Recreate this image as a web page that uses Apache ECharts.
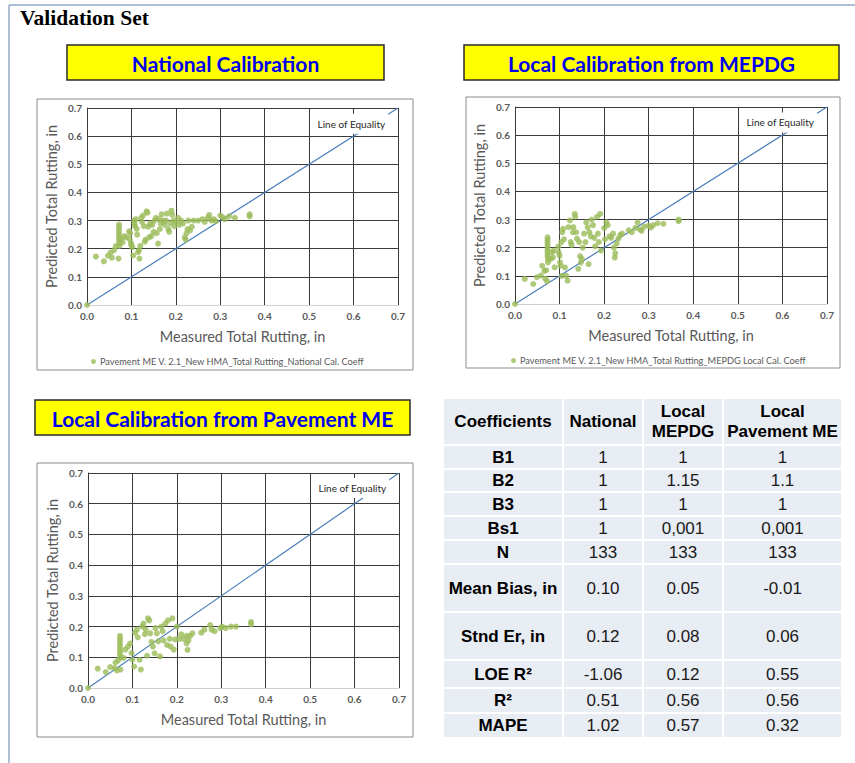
<!DOCTYPE html>
<html>
<head>
<meta charset="utf-8">
<script src="https://cdn.jsdelivr.net/npm/echarts@6/dist/echarts.min.js"></script>
<style>
html,body{margin:0;padding:0;background:#fff;}
#c{width:855px;height:763px;}
</style>
</head>
<body>
<div id="c"></div>
<script>
// ---------- data ----------
const tickLabels = ['0.0','0.1','0.2','0.3','0.4','0.5','0.6','0.7'];
const xAxisName = 'Measured Total Rutting, in';
const yAxisName = 'Predicted Total Rutting, in';
const equalityLine = [[0,0],[0.7,0.7]];

const nationalName = 'Pavement ME V. 2.1_New HMA_Total Rutting_National Cal. Coeff';
const mepdgName = 'Pavement ME V. 2.1_New HMA_Total Rutting_MEPDG Local Cal. Coeff';
const pmeName = 'Pavement ME V. 2.1_New HMA_Total Rutting_Pavement ME Local Cal. Coeff';

const nationalPoints = [
 [0,0],
 [0.02,0.172],[0.038,0.155],[0.047,0.175],[0.053,0.186],[0.056,0.168],[0.061,0.195],[0.065,0.209],[0.071,0.165],
 [0.072,0.286],[0.072,0.276],[0.072,0.265],[0.072,0.254],[0.072,0.243],[0.072,0.232],[0.072,0.22],[0.073,0.21],
 [0.077,0.233],[0.08,0.222],[0.084,0.245],[0.088,0.24],
 [0.095,0.262],[0.097,0.255],[0.096,0.234],[0.099,0.22],[0.1,0.212],[0.102,0.205],[0.104,0.176],
 [0.106,0.3],[0.107,0.29],[0.108,0.28],[0.11,0.305],[0.112,0.27],[0.113,0.25],[0.115,0.188],[0.117,0.195],[0.118,0.165],[0.12,0.21],
 [0.122,0.31],[0.124,0.295],[0.126,0.318],[0.128,0.28],[0.13,0.225],[0.132,0.232],[0.134,0.333],[0.136,0.328],[0.138,0.278],[0.14,0.24],[0.142,0.29],
 [0.145,0.245],[0.147,0.285],[0.15,0.26],[0.152,0.3],[0.155,0.31],[0.157,0.255],[0.16,0.218],[0.162,0.305],[0.164,0.27],[0.166,0.29],[0.168,0.322],
 [0.172,0.3],[0.175,0.285],[0.178,0.3],[0.18,0.325],[0.183,0.27],[0.185,0.26],[0.188,0.29],[0.19,0.335],[0.192,0.32],[0.195,0.3],[0.197,0.28],
 [0.2,0.295],[0.205,0.31],[0.208,0.285],[0.212,0.3],[0.216,0.29],[0.22,0.24],[0.222,0.232],[0.224,0.255],[0.226,0.27],[0.228,0.3],[0.232,0.265],[0.236,0.278],[0.24,0.3],
 [0.25,0.3],[0.26,0.305],[0.265,0.295],[0.272,0.31],[0.275,0.32],[0.28,0.3],[0.285,0.305],[0.29,0.298],[0.3,0.318],[0.305,0.312],[0.31,0.305],[0.32,0.315],[0.333,0.31],[0.366,0.322],[0.366,0.315]
];

const mepdgPoints = [
 [0,0],
 [0.022,0.089],[0.041,0.071],[0.049,0.095],[0.058,0.101],[0.061,0.136],[0.066,0.118],[0.068,0.09],[0.072,0.081],
 [0.073,0.237],[0.073,0.228],[0.073,0.219],[0.073,0.21],[0.073,0.2],[0.073,0.19],[0.073,0.18],[0.073,0.17],[0.074,0.16],[0.074,0.148],[0.07,0.12],
 [0.08,0.16],[0.083,0.184],[0.085,0.166],[0.087,0.19],[0.089,0.13],
 [0.097,0.204],[0.098,0.184],[0.1,0.172],[0.101,0.148],[0.102,0.136],[0.104,0.22],[0.105,0.1],
 [0.106,0.255],[0.108,0.267],[0.11,0.23],[0.112,0.13],[0.115,0.1],[0.118,0.083],[0.12,0.273],[0.123,0.297],[0.125,0.22],[0.127,0.21],[0.13,0.255],[0.131,0.273],
 [0.134,0.32],[0.135,0.31],[0.137,0.255],[0.139,0.232],[0.142,0.125],[0.144,0.22],[0.146,0.17],[0.148,0.148],[0.15,0.16],[0.152,0.2],[0.155,0.25],[0.158,0.22],
 [0.16,0.29],[0.163,0.272],[0.165,0.142],[0.167,0.255],[0.17,0.24],[0.172,0.3],[0.175,0.28],[0.178,0.235],[0.18,0.205],[0.184,0.31],[0.186,0.25],[0.188,0.22],[0.191,0.32],[0.193,0.19],
 [0.2,0.27],[0.202,0.23],[0.205,0.29],[0.208,0.28],[0.212,0.24],[0.216,0.235],[0.22,0.25],[0.222,0.2],[0.224,0.165],[0.225,0.18],[0.228,0.215],[0.232,0.232],[0.236,0.245],[0.24,0.25],
 [0.255,0.262],[0.262,0.255],[0.27,0.27],[0.275,0.29],[0.28,0.265],[0.284,0.26],[0.29,0.275],[0.3,0.278],[0.305,0.272],[0.31,0.28],[0.32,0.287],[0.333,0.285],[0.367,0.3],[0.367,0.294]
];

const pmePoints = [
 [0,0],
 [0.022,0.063],[0.04,0.052],[0.05,0.068],[0.06,0.065],[0.062,0.083],[0.065,0.057],[0.068,0.09],
 [0.072,0.17],[0.072,0.16],[0.072,0.15],[0.072,0.14],[0.072,0.13],[0.072,0.12],[0.072,0.11],[0.073,0.1],[0.073,0.06],
 [0.08,0.098],[0.084,0.125],[0.09,0.135],[0.095,0.145],[0.098,0.114],[0.1,0.092],[0.104,0.07],
 [0.106,0.18],[0.11,0.19],[0.112,0.165],[0.116,0.092],[0.119,0.06],[0.122,0.2],[0.125,0.21],[0.128,0.175],[0.13,0.19],[0.133,0.105],
 [0.135,0.227],[0.138,0.22],[0.14,0.178],[0.143,0.15],[0.146,0.135],[0.15,0.113],[0.152,0.195],[0.155,0.178],[0.158,0.152],[0.162,0.103],[0.165,0.2],[0.168,0.185],[0.17,0.155],[0.174,0.21],[0.178,0.14],
 [0.18,0.22],[0.184,0.16],[0.186,0.135],[0.19,0.227],[0.193,0.125],[0.196,0.158],[0.2,0.2],[0.205,0.16],[0.21,0.175],[0.215,0.16],
 [0.222,0.17],[0.222,0.145],[0.224,0.124],[0.226,0.155],[0.23,0.17],[0.235,0.178],
 [0.255,0.18],[0.262,0.19],[0.275,0.205],[0.278,0.19],[0.285,0.185],[0.298,0.195],[0.302,0.2],[0.31,0.195],[0.322,0.2],[0.333,0.2],[0.367,0.215],[0.367,0.208]
];

const tableHeader = ['Coefficients','National','Local\nMEPDG','Local\nPavement ME'];
const tableRowLabels = ['B1','B2','B3','Bs1','N','Mean Bias, in','Stnd Er, in','LOE R\u00B2','R\u00B2','MAPE'];
const tableNational = ['1','1','1','1','133','0.10','0.12','-1.06','0.51','1.02'];
const tableMepdg = ['1','1.15','1','0,001','133','0.05','0.08','0.12','0.56','0.57'];
const tablePme = ['1','1.1','1','0,001','133','-0.01','0.06','0.55','0.56','0.32'];

// ---------- layout ----------
const chartFont = 'Lato';
const grids = [
  {left:87, top:108, width:311, height:197},
  {left:515, top:107, width:312, height:197},
  {left:88, top:473, width:311, height:215}
];
const labelCoords = [[0.595,0.644],[0.595,0.645],[0.595,0.651]];

function xAxisFor(i){
  return {
    type:'value', gridIndex:i, min:0, max:0.7, interval:0.1,
    name:xAxisName, nameLocation:'middle', nameGap:24,
    nameTextStyle:{fontFamily:chartFont, fontSize:14.5, color:'#595959'},
    axisLine:{show:true, lineStyle:{color:'#d0d0d0'}},
    axisTick:{show:false},
    splitLine:{show:true, lineStyle:{color:'#3a3a3a', width:1}},
    axisLabel:{margin:6, fontFamily:chartFont, fontSize:10, fontWeight:'bold', color:'#595959',
      formatter:v=>tickLabels[Math.round(v*10)]}
  };
}
function yAxisFor(i){
  return {
    type:'value', gridIndex:i, min:0, max:0.7, interval:0.1,
    name:yAxisName, nameLocation:'middle', nameGap:28,
    nameTextStyle:{fontFamily:chartFont, fontSize:14.5, color:'#595959'},
    axisLine:{show:true, lineStyle:{color:'#3a3a3a'}},
    axisTick:{show:false},
    splitLine:{show:true, lineStyle:{color:'#3a3a3a', width:1}},
    axisLabel:{margin:5, fontFamily:chartFont, fontSize:10, fontWeight:'bold', color:'#595959',
      formatter:v=>tickLabels[Math.round(v*10)]}
  };
}
function scatterFor(i, name, pts){
  return {type:'scatter', name:name, xAxisIndex:i, yAxisIndex:i, data:pts,
    symbol:'circle', symbolSize:6, itemStyle:{color:'#9BBB59'}, z:3};
}
function lineFor(i){
  return {type:'line', name:'Line of Equality', xAxisIndex:i, yAxisIndex:i, data:equalityLine,
    showSymbol:false, lineStyle:{color:'#4A7EBB', width:1.2}, itemStyle:{color:'#4A7EBB'}, z:2,
    silent:true,
    markPoint:{symbol:'circle', symbolSize:1, itemStyle:{color:'rgba(0,0,0,0)'},
      data:[{coord:labelCoords[i]}],
      label:{show:true, position:'inside', formatter:'Line of Equality', backgroundColor:'#fff',
        padding:[5,3], fontFamily:chartFont, fontSize:10, color:'#262626'}}
  };
}

// ---------- graphics ----------
const g = [];
// page frame
g.push({type:'line', shape:{x1:9,y1:5,x2:855,y2:5}, style:{stroke:'#93a9c6', lineWidth:1.5}});
g.push({type:'line', shape:{x1:9,y1:5,x2:9,y2:763}, style:{stroke:'#93a9c6', lineWidth:1.5}});
g.push({type:'text', left:20, top:7, style:{text:'Validation Set', font:'bold 21.5px "Liberation Serif"', fill:'#000'}});

// chart frames
[[37,99,376,271],[466,97,374,271],[37,463,376,274]].forEach(r=>{
  g.push({type:'rect', shape:{x:r[0],y:r[1],width:r[2],height:r[3]}, style:{fill:'none', stroke:'#8c8c8c', lineWidth:1}, z:-1});
});

// yellow title boxes
const titleBoxes = [
  {x:67,y:45,w:317,h:35,t:'National Calibration'},
  {x:464,y:45,w:375,h:35,t:'Local Calibration from MEPDG'},
  {x:35,y:400,w:375,h:35,t:'Local Calibration from Pavement ME'}
];
titleBoxes.forEach(b=>{
  g.push({type:'rect', shape:{x:b.x,y:b.y,width:b.w,height:b.h}, style:{fill:'#FFFF00', stroke:'#2b2b2b', lineWidth:1.5}});
  g.push({type:'text', x:b.x+b.w/2, y:b.y+b.h/2+1, style:{text:b.t, font:'bold 21px Lato', fill:'#0000EE', textAlign:'center', textVerticalAlign:'middle'}});
});

// table
const colEdges = [443,563,643,723,842];
const rowEdges = [398,445,469,492,516,540,564,612,660,688,713,738];
for(let r=0;r<rowEdges.length-1;r++){
  for(let c=0;c<colEdges.length-1;c++){
    g.push({type:'rect', shape:{x:colEdges[c]+1,y:rowEdges[r]+1,width:colEdges[c+1]-colEdges[c]-2,height:rowEdges[r+1]-rowEdges[r]-2},
      style:{fill:'#E8ECF3'}});
  }
}
function cellText(c, r, txt, bold){
  const cx = (colEdges[c]+colEdges[c+1])/2;
  const cy = (rowEdges[r]+rowEdges[r+1])/2;
  g.push({type:'text', x:cx, y:cy, style:{text:txt, font:(bold?'bold ':'')+'17px "Liberation Sans"', fill:bold?'#000':'#1a1a1a',
    textAlign:'center', textVerticalAlign:'middle', lineHeight:20}});
}
tableHeader.forEach((h,c)=>cellText(c,0,h,true));
tableRowLabels.forEach((lab,r)=>{
  cellText(0,r+1,lab,true);
  cellText(1,r+1,tableNational[r],false);
  cellText(2,r+1,tableMepdg[r],false);
  cellText(3,r+1,tablePme[r],false);
});

// ---------- chart ----------
const chart = echarts.init(document.getElementById('c'), null, {renderer:'svg', width:855, height:763});
chart.setOption({
  animation:false,
  backgroundColor:'#fff',
  grid:grids,
  xAxis:[xAxisFor(0),xAxisFor(1),xAxisFor(2)],
  yAxis:[yAxisFor(0),yAxisFor(1),yAxisFor(2)],
  legend:[
    {data:[nationalName], left:86, top:352, icon:'circle', itemWidth:5, itemHeight:5, itemGap:4,
      textStyle:{fontFamily:chartFont, fontSize:9.2, color:'#595959', padding:[0,0,0,-1]}, selectedMode:false},
    {data:[mepdgName], left:506, top:351, icon:'circle', itemWidth:5, itemHeight:5, itemGap:4,
      textStyle:{fontFamily:chartFont, fontSize:9.2, color:'#595959', padding:[0,0,0,-1]}, selectedMode:false}
  ],
  series:[
    lineFor(0), scatterFor(0,nationalName,nationalPoints),
    lineFor(1), scatterFor(1,mepdgName,mepdgPoints),
    lineFor(2), scatterFor(2,pmeName,pmePoints)
  ],
  graphic:g
});
</script>
</body>
</html>
